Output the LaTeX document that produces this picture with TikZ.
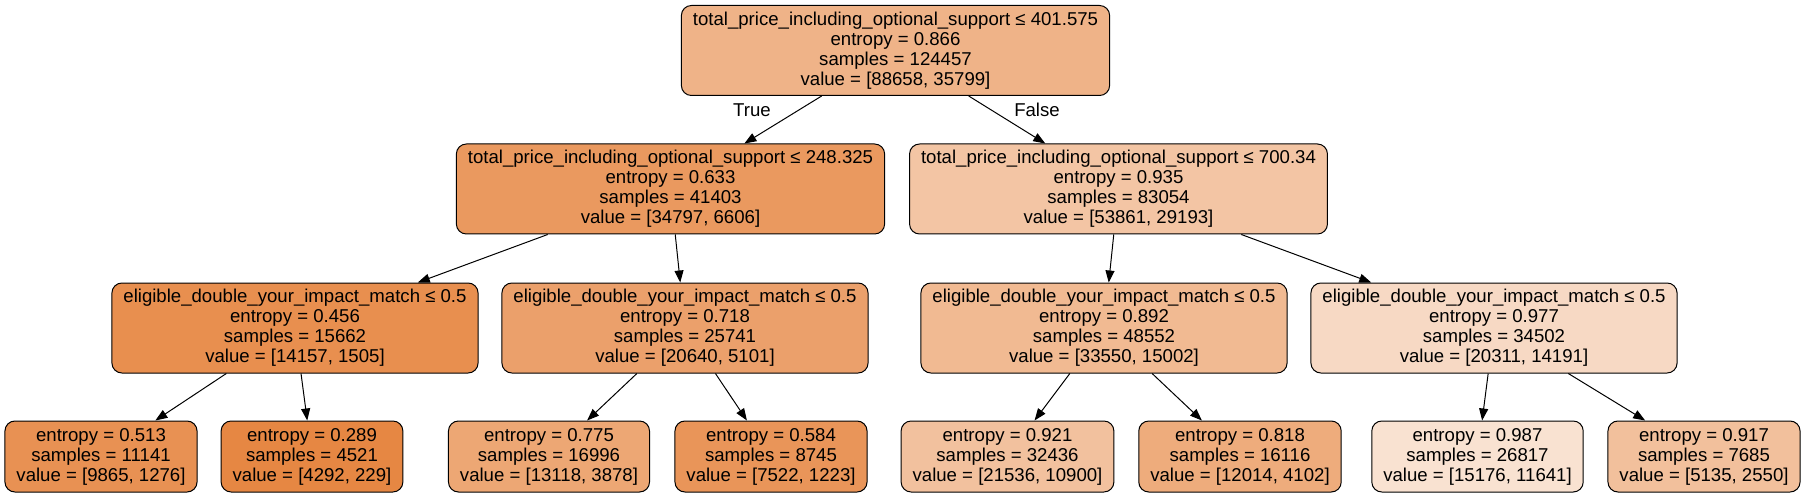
\documentclass[tikz,border=0pt]{standalone}
\usepackage{fontspec}
\setmainfont{Liberation Sans}
\usetikzlibrary{arrows.meta}
\definecolor{classzero}{RGB}{229,129,57}

\begin{document}
\begin{tikzpicture}[x=1pt, y=-1pt,
    box/.style={draw, line width=1pt, rounded corners=10pt, align=center,
        inner xsep=11.5pt, inner ysep=0pt, font=\fontsize{18.6}{20}\selectfont},
    split/.style={box, minimum height=90pt},
    leaf/.style={box, minimum height=71pt},
    branch/.style={font=\fontsize{18.6}{20}\selectfont},
    link/.style={-{Triangle[length=12pt, width=9pt]}, line width=1pt}]
        \useasboundingbox (0, 0) rectangle (1805, 497);

        % Root
        \node[split, fill=classzero!60!white] (n0) at (895.5, 50.5)
            {total\_price\_including\_optional\_support ≤ 401.575\\entropy = 0.866\\samples = 124457\\value = [88658, 35799]};

        % Depth 1
        \node[split, fill=classzero!81!white] (n1) at (670.5, 189)
            {total\_price\_including\_optional\_support ≤ 248.325\\entropy = 0.633\\samples = 41403\\value = [34797, 6606]};
        \node[split, fill=classzero!46!white] (n8) at (1118.5, 189)
            {total\_price\_including\_optional\_support ≤ 700.34\\entropy = 0.935\\samples = 83054\\value = [53861, 29193]};

        % Depth 2
        \foreach \n/\x/\a/\e/\s/\v in {n2/295/89/0.456/15662/{[14157, 1505]},
                                       n5/685/75/0.718/25741/{[20640, 5101]},
                                       n9/1104/55/0.892/48552/{[33550, 15002]},
                                       n12/1494/30/0.977/34502/{[20311, 14191]}} {
            \node[split, fill=classzero!\a!white] (\n) at (\x, 328)
                {eligible\_double\_your\_impact\_match ≤ 0.5\\entropy = \e\\samples = \s\\value = \v};
        }

        % Leaves
        \foreach \n/\x/\a/\e/\s/\v in {n3/101/87/0.513/11141/{[9865, 1276]},
                                       n4/312/95/0.289/4521/{[4292, 229]},
                                       n6/549/70/0.775/16996/{[13118, 3878]},
                                       n7/771/84/0.584/8745/{[7522, 1223]},
                                       n10/1007.5/49/0.921/32436/{[21536, 10900]},
                                       n11/1240/66/0.818/16116/{[12014, 4102]},
                                       n13/1477.5/23/0.987/26817/{[15176, 11641]},
                                       n14/1704/50/0.917/7685/{[5135, 2550]}} {
            \node[leaf, fill=classzero!\a!white] (\n) at (\x, 456.5)
                {entropy = \e\\samples = \s\\value = \v};
        }

        % Edges
        \foreach \a/\b in {n0/n1, n0/n8, n1/n2, n1/n5, n8/n9, n8/n12,
                           n2/n3, n2/n4, n5/n6, n5/n7, n9/n10, n9/n11, n12/n13, n12/n14} {
            \draw[link] (\a) -- (\b);
        }

        \node[branch] (tr) at (752, 110) {True};
        \node[branch] (fa) at (1037, 110) {False};
    \end{tikzpicture}
\end{document}
